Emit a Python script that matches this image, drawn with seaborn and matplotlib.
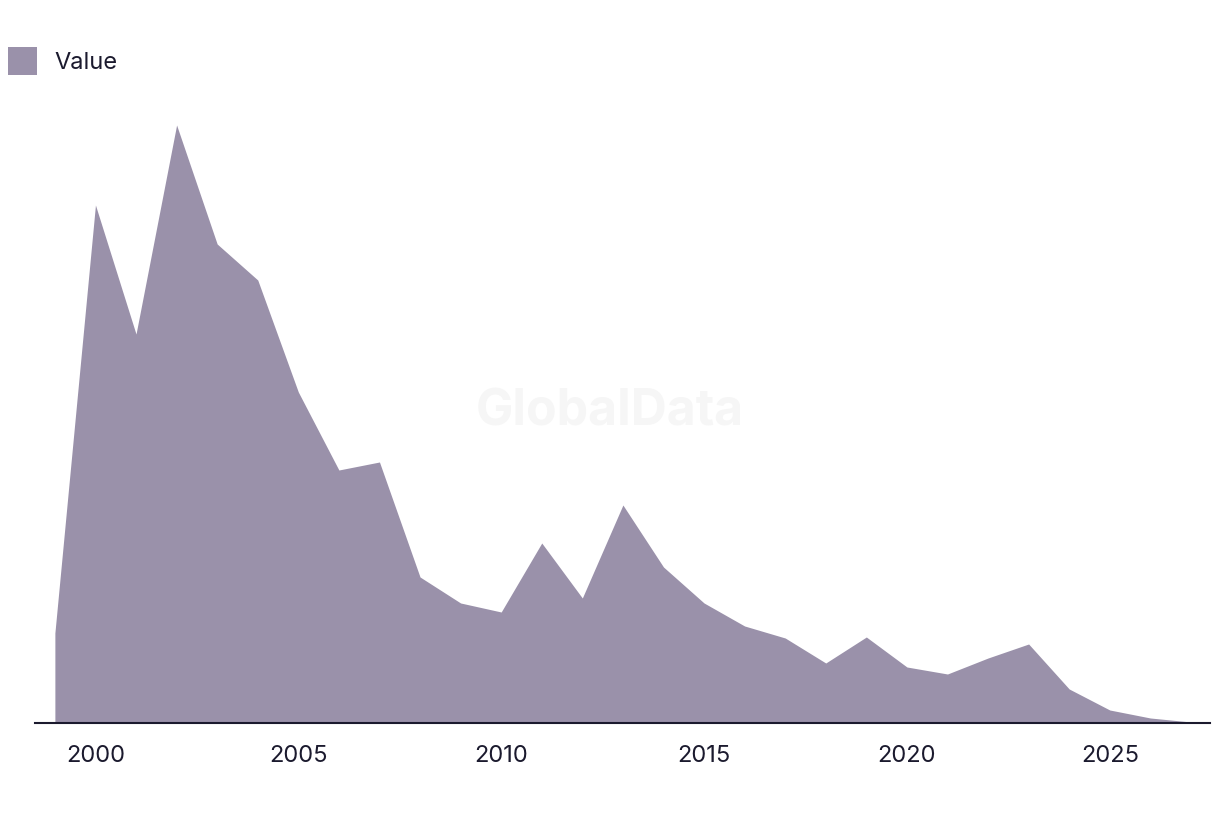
import matplotlib
matplotlib.use('Agg')
import matplotlib.pyplot as plt
from matplotlib.patches import Patch
import seaborn as sns
import pandas as pd

# Values (arbitrary units)
years = list(range(1999, 2028))
values = [90, 518, 389, 598, 479, 443, 331, 253, 261, 146, 120, 111, 180, 125,
          218, 156, 120, 97, 85, 60, 86, 56, 49, 65, 79, 34, 13, 5, 1]
xticks = [2000, 2005, 2010, 2015, 2020, 2025]

df = pd.DataFrame({'year': years, 'value': values})

fill_color = '#9a91aa'
ink = '#1b1a2e'

sns.set_theme(style='white')
plt.rcParams['font.family'] = ['Inter', 'DejaVu Sans']

fig = plt.figure(figsize=(12.2, 8.16), dpi=100)
ax = fig.add_axes([35 / 1220, 1 - 723 / 816, 1175 / 1220, 623 / 816])

sns.lineplot(data=df, x='year', y='value', color=fill_color, linewidth=0, ax=ax)
ax.fill_between(df['year'], df['value'], 0, color=fill_color, linewidth=0)

ax.set_xlim(1998.51, 2027.47)
ax.set_ylim(0, 623)
ax.set_xticks(xticks)
ax.set_xticklabels([str(t) for t in xticks])
ax.set_yticks([])
ax.set_xlabel('')
ax.set_ylabel('')
ax.tick_params(axis='x', length=0, pad=16, labelsize=17, labelcolor=ink)

for side in ['top', 'right', 'left']:
    ax.spines[side].set_visible(False)
ax.spines['bottom'].set_color(ink)
ax.spines['bottom'].set_linewidth(1.5)

# faint watermark
ax.text(0.5, 0.495, 'GlobalData', transform=fig.transFigure, ha='center', va='center',
        fontsize=36, fontweight='bold', color='#f6f6f6', zorder=0)

fig.legend(handles=[Patch(facecolor=fill_color, edgecolor='none', label='Value')],
           loc='upper left', bbox_to_anchor=(0.0, 0.953), frameon=False,
           fontsize=17, labelcolor=ink, handlelength=1.2, handleheight=1.5,
           handletextpad=0.75, borderaxespad=0.0, borderpad=0.35)

fig.savefig('out.png', dpi=100)
